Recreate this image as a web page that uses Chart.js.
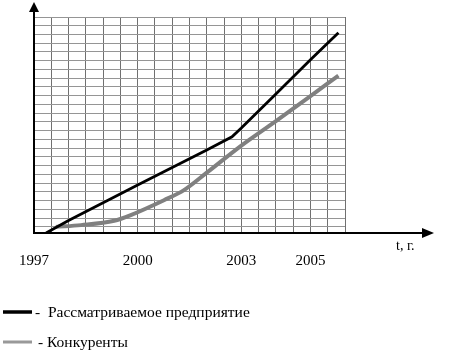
<!DOCTYPE html>
<html>
<head>
<meta charset="utf-8">
<script src="https://cdn.jsdelivr.net/npm/chart.js@4/dist/chart.umd.min.js"></script>
<style>
  html, body { margin: 0; padding: 0; background: #fff; }
  #wrap { width: 454px; height: 358px; position: relative; }
</style>
</head>
<body>
<div id="wrap"><canvas id="c" width="454" height="358"></canvas></div>
<script>
// ---- data ----
const seriesNames = ['Рассматриваемое предприятие', 'Конкуренты'];
const companyYears  = [1997.35, 1998, 1999, 2000, 2001, 2002, 2002.73, 2003, 2004, 2005, 2005.81];
const companyValues = [0,       1.43, 3.45, 5.5,  7.5,  9.5,  11.0,    12.0, 15.9, 19.8, 22.9];
const rivalYears    = [1997.63, 1998.36, 1999.32, 1999.8, 2000.76, 2001.34, 2002, 2003, 2004, 2005, 2005.81];
const rivalValues   = [0.7,     0.9,     1.4,     2.05,   3.75,    4.9,     6.9,  10.0, 12.8, 15.65, 18.0];
const tickYears = [1997, 2000, 2003, 2005];
const xAxisTitle = 't, г.';

const xMin = 1997, xMax = 2006, xStep = 0.5;
const yMin = 0, yMax = 24.7, yFirstGrid = 0.7;

const xGrid = [];
for (let v = xMin; v <= xMax + 1e-9; v += xStep) xGrid.push(+v.toFixed(2));
const yGrid = [];
for (let v = yFirstGrid; v <= yMax + 1e-9; v += 1) yGrid.push(+v.toFixed(2));

const toPts = (xs, ys) => xs.map((x, i) => ({ x: x, y: ys[i] }));

const serif = '"Liberation Serif", "Times New Roman", serif';

const decor = {
  id: 'decor',
  afterDraw(chart) {
    const ctx = chart.ctx;
    const a = chart.chartArea;
    ctx.save();
    ctx.strokeStyle = '#000';
    ctx.fillStyle = '#000';
    ctx.lineWidth = 2;
    // y axis with arrow
    ctx.beginPath();
    ctx.moveTo(a.left, a.bottom + 1);
    ctx.lineTo(a.left, 10);
    ctx.stroke();
    ctx.beginPath();
    ctx.moveTo(a.left, 2);
    ctx.lineTo(a.left - 5, 12);
    ctx.lineTo(a.left + 5, 12);
    ctx.closePath();
    ctx.fill();
    // x axis with arrow
    ctx.beginPath();
    ctx.moveTo(a.left - 1, a.bottom);
    ctx.lineTo(424, a.bottom);
    ctx.stroke();
    ctx.beginPath();
    ctx.moveTo(434, a.bottom);
    ctx.lineTo(422, a.bottom - 5);
    ctx.lineTo(422, a.bottom + 5);
    ctx.closePath();
    ctx.fill();
    // axis title
    ctx.font = '14px ' + serif;
    ctx.textBaseline = 'middle';
    ctx.textAlign = 'left';
    ctx.fillText(xAxisTitle, 396, 246);
    // legend
    const ds = chart.data.datasets;
    const rows = [{ y: 312, dash: '-  ', tx: 35, w: 3.5, col: '#000' },
                  { y: 342, dash: '- ', tx: 38, w: 3, col: '#999' }];
    ctx.font = '15.5px ' + serif;
    rows.forEach((r, i) => {
      ctx.strokeStyle = r.col;
      ctx.lineWidth = r.w;
      ctx.beginPath();
      ctx.moveTo(3, r.y);
      ctx.lineTo(32, r.y);
      ctx.stroke();
      ctx.fillStyle = '#000';
      ctx.fillText(r.dash + ds[i].label, r.tx, r.y + 1);
    });
    ctx.restore();
  }
};

new Chart(document.getElementById('c'), {
  type: 'line',
  data: {
    datasets: [
      { label: seriesNames[0], data: toPts(companyYears, companyValues),
        borderColor: '#000', borderWidth: 2.8, pointRadius: 0, tension: 0, fill: false },
      { label: seriesNames[1], data: toPts(rivalYears, rivalValues),
        borderColor: '#808080', borderWidth: 4, pointRadius: 0,
        cubicInterpolationMode: 'monotone', fill: false }
    ]
  },
  options: {
    responsive: false,
    animation: false,
    layout: { padding: { left: 33, top: 17, right: 109, bottom: 0 } },
    plugins: { legend: { display: false }, tooltip: { enabled: false } },
    scales: {
      x: {
        type: 'linear', min: xMin, max: xMax,
        afterBuildTicks: s => { s.ticks = xGrid.map(v => ({ value: v })); },
        afterFit: s => { s.height = 125; },
        border: { display: false },
        grid: { color: '#707070', lineWidth: 1, drawTicks: false },
        ticks: {
          autoSkip: false, maxRotation: 0, padding: 19, color: '#000',
          font: { family: serif, size: 15 },
          callback: v => tickYears.includes(v) ? String(v) : ''
        }
      },
      y: {
        type: 'linear', min: yMin, max: yMax,
        afterBuildTicks: s => { s.ticks = yGrid.map(v => ({ value: v })); },
        afterFit: s => { s.width = 0; },
        border: { display: false },
        grid: { color: '#959595', lineWidth: 1, drawTicks: false },
        ticks: { display: false }
      }
    }
  },
  plugins: [decor]
});
</script>
</body>
</html>
